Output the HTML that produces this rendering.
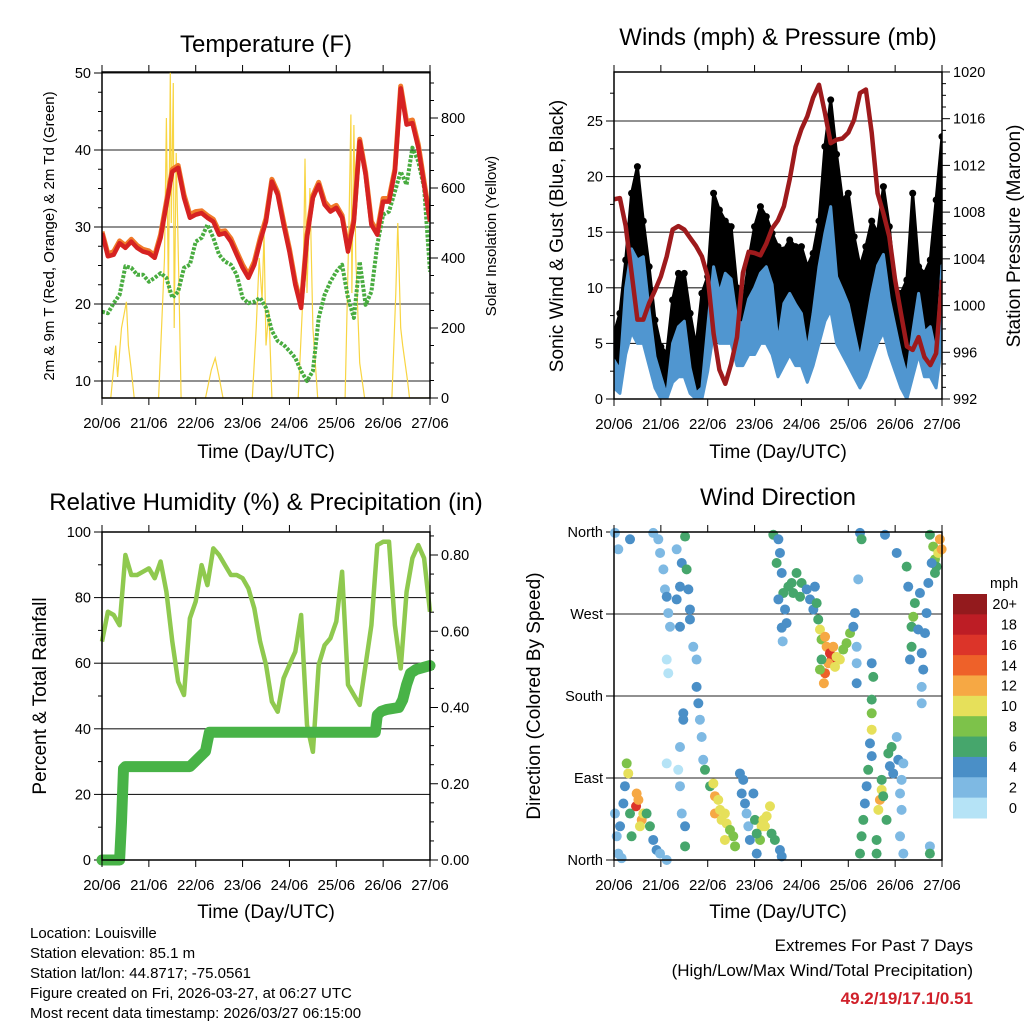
<!DOCTYPE html>
<html><head><meta charset="utf-8"><style>
html,body{margin:0;padding:0;background:#fff}
svg{display:block;font-family:"Liberation Sans",Arial,sans-serif}
</style></head><body>
<svg id="fig" width="1024" height="1024" viewBox="0 0 1024 1024" xmlns="http://www.w3.org/2000/svg">
<defs>
<clipPath id="c1"><rect x="102" y="72" width="328" height="326"/></clipPath>
<clipPath id="c2"><rect x="614" y="72" width="328" height="327"/></clipPath>
<clipPath id="c3"><rect x="90" y="520" width="352" height="352"/></clipPath>
<clipPath id="c4"><rect x="608" y="526" width="340" height="340"/></clipPath>
</defs>
<g font-size="24" text-anchor="middle" fill="#000">
<text x="266" y="52">Temperature (F)</text>
<text x="778" y="45">Winds (mph) &amp; Pressure (mb)</text>
<text x="266" y="510">Relative Humidity (%) &amp; Precipitation (in)</text>
<text x="778" y="505">Wind Direction</text>
</g>
<g font-size="19" text-anchor="middle">
<text x="266" y="458">Time (Day/UTC)</text>
<text x="778" y="458">Time (Day/UTC)</text>
<text x="266" y="918">Time (Day/UTC)</text>
<text x="778" y="918">Time (Day/UTC)</text>
<text transform="translate(563,236) rotate(-90)">Sonic Wind &amp; Gust (Blue, Black)</text>
<text transform="translate(1020,236) rotate(-90)">Station Pressure (Maroon)</text>
<text transform="translate(46,696) rotate(-90)">Percent &amp; Total Rainfall</text>
<text transform="translate(540,696) rotate(-90)">Direction (Colored By Speed)</text>
</g>
<g font-size="15" text-anchor="middle">
<text transform="translate(54,236) rotate(-90)">2m &amp; 9m T (Red, Orange) &amp; 2m Td (Green)</text>
<text transform="translate(496,236) rotate(-90)">Solar Insolation (Yellow)</text>
</g>
<g font-size="15" fill="#000">
<text x="30" y="938">Location: Louisville</text>
<text x="30" y="958">Station elevation: 85.1 m</text>
<text x="30" y="978">Station lat/lon: 44.8717; -75.0561</text>
<text x="30" y="998">Figure created on Fri, 2026-03-27, at 06:27 UTC</text>
<text x="30" y="1018">Most recent data timestamp: 2026/03/27 06:15:00</text>
</g>
<g font-size="17" text-anchor="end">
<text x="973" y="951">Extremes For Past 7 Days</text>
<text x="973" y="976">(High/Low/Max Wind/Total Precipitation)</text>
<text x="973" y="1004" fill="#d0202a" font-weight="bold">49.2/19/17.1/0.51</text>
</g>
<g id="g1"></g>
<g id="g2"></g>
<g id="g3"></g>
<g id="g4"></g>
</svg>
<script>
const hours=[0,3,6,9,12,15,18,21,24,27,30,33,36,39,42,45,48,51,54,57,60,63,66,69,72,75,78,81,84,87,90,93,96,99,102,105,108,111,114,117,120,123,126,129,132,135,138,141,144,147,150,153,156,159,162,165,168];
const dayLabels=["20/06","21/06","22/06","23/06","24/06","25/06","26/06","27/06"];
const tempRed=[29.2,26.2,26.4,27.9,27.3,28.1,27.3,26.8,26.6,26,28.6,32.9,37.2,37.7,33.8,31.2,31.6,31.8,31.2,30.7,29,29.2,28.1,26.4,24.7,23.4,25.1,28.1,30.7,35.9,34.2,30.3,26.8,22.5,19.5,28.6,33.8,35.5,32.9,32,32.5,31.2,26.8,30.7,41.1,36.8,30.3,29,33.3,33.3,37.2,48,43.3,43.5,40.3,35.5,30.7];
const tempOrange=[29.4,26.5,26.8,28.2,27.6,28.4,27.6,27.1,26.9,26.3,29,33.3,37.5,38,34.2,31.6,32,32.1,31.5,31,29.4,29.5,28.5,26.8,25.1,23.8,25.5,28.5,31.1,36.2,34.5,30.7,27.2,22.9,19.8,29,34.1,35.8,33.3,32.4,32.8,31.5,27.2,31.1,41.4,37.1,30.7,29.4,33.7,33.7,37.5,48.3,43.7,43.9,40.7,35.9,31];
const tempDew=[19,18.8,20.1,21.2,24.9,24.7,23.8,23.8,22.9,23.4,24,23.4,20.8,21.6,24.7,25.1,28.1,28.6,30.3,28.6,26.4,25.5,25.1,23.8,20.8,20.1,20.3,20.8,19.5,16.5,15.2,14.7,13.9,13,11.3,10,11.3,18.2,21.2,22.9,24.2,25.1,20.8,18.2,25.5,19.9,21.6,27.7,31.6,32,34.6,37.2,35.5,40.3,38.5,35.1,24.2];
const solarHours=[0,4.5,7,8,10,12.5,13.5,15,16.5,29,32,33,34,35,35.5,36.5,37,38,39.5,40.5,53,56,58,60,62,77,79,80.5,82,83,84,85.5,87,100.5,103,104,105,106.5,108,110.5,124.5,126.5,127.5,128,129,130,132,134.5,148.5,150.5,151.5,153,154,156.5,157.5,168];
const solarValues=[0,0,150,60,200,275,150,80,0,0,400,800,300,930,500,900,200,700,300,0,0,80,114,60,0,0,200,400,280,470,150,250,0,0,300,684,300,600,200,0,0,500,810,300,780,400,100,0,0,300,500,200,150,50,0,0];
const tempTicks=[10,20,30,40,50];
const solarTicks=[0,200,400,600,800];
const windHi=[3.5,2.6,10,13.5,12.5,12.8,8,3.8,2,0.3,5,6.5,7,2.8,0.5,1,6.5,11.9,9.5,11.3,10.8,7,6.8,9,10,11.3,11.9,10.3,5,8.6,9.5,8.5,7.7,4.3,7.7,11.9,14.9,17.3,11,9.8,8.5,6,3.5,6.5,9.5,12,13,9,6.5,4,2,6,9.5,6,6.5,4,12];
const windLo=[1,0.5,4,6,5,5,3,1,0,0,1.5,2,2,0.5,0,0,2.5,6,5,5,5,3,3,4,4,5,5,4,2,3,4,3,3,1.5,3,5,7,8,5,4,3,2,1,2,3.5,5,6,4,2.5,1,0,2,4,2,2,1,5];
const gustHi=[5.9,7.7,12.5,18.5,20.9,16,11.9,7.1,4.7,4.1,8.9,11.3,11.3,7.7,4.7,9.5,11,18.5,17,16,15.5,10,8.3,12.5,15.5,17.3,16.4,14.9,13.7,13.4,14.3,13.7,13.7,11.9,13.1,16,22.7,26.9,22,17.9,18.5,14.6,11.9,13.7,16,14.9,19.1,15.5,10,9.5,10.7,18.5,11.9,11.3,12.5,17.9,23.6];
const pressure=[1009.1,1009.2,1006.8,1002.8,998.8,998.8,1000.2,1001.3,1002.5,1004.2,1006.5,1006.8,1006.5,1005.8,1005.1,1004.2,1002.5,997.6,994.5,993.3,995,997.3,1002.8,1004.6,1004.5,1004.3,1005.3,1006.6,1007.3,1008.5,1010.8,1013.6,1015.1,1016.2,1017.8,1018.9,1016.5,1013.9,1014.2,1014.3,1014.8,1015.9,1018.2,1018.5,1014.8,1009.6,1007.9,1005.9,1002.2,999.3,996.5,996.2,997.3,995.6,994.9,995.9,1002.2];
const windTicks=[0,5,10,15,20,25];
const pressTicks=[992,996,1000,1004,1008,1012,1016,1020];
const rhValues=[66.6,75.7,74.7,71.6,93,86.9,86.9,87.9,88.9,85.9,91,81.8,66.6,54.4,50.3,73.7,78.8,89.9,83.8,95,93,89.9,86.9,86.9,85.9,82.8,76.7,66.6,59.5,48.3,45.2,55.4,59.5,63.5,74.7,41.2,33,59.5,65.5,67.6,72.7,87.9,53.4,50.3,47.3,59.5,71.6,96,97,97,71.6,58.4,81.8,92,96,92,75.7];
const rainHours=[0,9,10,11,12,45,47,50,53,54,55,140,141,143,146,152,154,156,158,161,168];
const rainValues=[0,0,0.10,0.24,0.245,0.245,0.255,0.27,0.285,0.31,0.335,0.335,0.38,0.39,0.395,0.40,0.42,0.46,0.49,0.50,0.51];
const rhTicks=[0,20,40,60,80,100];
const rainTicks=["0.00","0.20","0.40","0.60","0.80"];
const dirHours=[0.5,1.4,2.2,3.1,3.9,0.5,2.2,6.5,7.3,5.6,4.8,8.2,9,11.6,11.3,12.5,14.2,15,13.3,16.7,18.4,20.1,21.8,23.6,27,8.2,20.1,22.7,23.6,25.3,26.1,27,27.8,28.7,27,27.8,32.1,33.8,36.4,34.7,37.2,38.1,38.9,38.9,33.8,32.1,40.6,42.3,42.3,43.2,44,44.9,45.7,46.6,35.5,35.5,33.8,33.8,34.7,36.4,36.4,27,32.9,49.2,50.9,51.7,53.4,51.7,54.3,56.8,57.7,59.4,61.1,62,56.8,55.1,64.5,66.2,65.4,67.1,67.9,68.8,69.6,71.4,72.2,73.1,76.5,78.2,79.9,75.6,77.3,80.7,82.4,85,85.9,74.8,73.1,81.6,84.2,85,83.3,85.9,86.7,87.6,88.4,85.9,86.4,89.3,84.2,91,93.5,96.1,98.7,100.4,102.1,103.8,102.9,91.8,95.3,104.6,105.5,106.3,108.1,108.9,110.6,111.5,109.8,108.1,107.5,112.3,114,115.7,113.2,106.3,105.5,117.4,119.1,120.9,122.6,123.4,124.3,124.3,124.3,125.1,126,126.8,132,132.8,132,132,132,131.1,132,130.2,129.4,128.5,127.7,126.8,126,134.5,134.5,137.1,136.2,135.4,137.9,137.1,140.5,142.2,141.3,143,139.6,144.8,145.6,147.3,146.5,147.3,146.5,148.2,148.2,149.9,150.7,154.1,153.3,152.4,152.4,155.8,156.7,157.6,158.4,157.6,157.6,160.1,159.3,161,151.6,144.8,138.8,161.8,163.5,164.4,165.2,166.1,166.9,167.8,162.7,164.4,161.8,161.8];
const dirDeg=[51,26,7,37,2,359,341,106,95,81,62,51,26,73,59,66,44,51,37,51,37,22,11,7,0,352,359,352,337,319,297,289,271,256,220,205,286,300,355,326,319,297,275,264,256,341,234,220,190,172,154,135,110,99,161,154,124,81,51,37,15,106,99,81,84,70,66,51,55,51,40,33,26,15,22,44,95,88,73,62,51,37,22,73,44,7,44,48,59,37,37,29,22,11,4,22,29,357,352,337,326,315,293,275,260,255,240,300,286,304,315,304,297,286,275,282,300,293,289,264,253,242,245,234,227,220,216,205,194,234,223,220,212,220,209,231,238,249,256,271,234,216,194,308,359,352,216,201,176,161,143,128,114,99,81,62,44,26,7,22,7,77,66,55,70,88,117,124,103,95,44,135,110,88,73,55,26,7,106,322,300,282,267,256,234,253,293,227,209,190,172,271,249,304,220,337,357,357,344,330,322,337,352,341,326,315,15,7];
const dirSpeed=[2,2,2,4,2,2,2,8,10,4,4,6,6,12,16,12,12,10,10,6,6,4,4,2,2,4,2,2,2,2,2,4,2,2,0,0,4,4,6,4,6,4,4,4,4,2,2,2,4,4,2,2,2,6,4,4,2,2,2,4,6,0,0,6,10,12,10,12,10,10,10,8,8,8,10,10,4,4,4,4,2,2,4,4,6,4,10,10,10,10,10,6,6,4,4,8,6,6,4,4,6,4,6,4,4,4,2,6,4,6,6,6,4,4,4,6,4,6,6,6,10,8,12,12,16,16,12,14,12,12,10,10,10,6,8,8,8,8,4,4,2,2,4,2,4,6,4,6,6,8,10,4,4,6,4,4,6,6,6,6,6,10,12,10,6,6,6,6,4,4,6,2,4,2,2,2,2,2,2,6,4,6,8,6,6,4,4,4,4,2,2,4,4,4,4,4,4,6,8,8,6,10,12,12,4,6,2,6];
const dirTicks=["North","East","South","West","North"];
const cbLabels=["20+","18","16","14","12","10","8","6","4","2","0"];
const cbColors=["#931a1d","#bd1d25","#dc3429","#ee6129","#f6a844","#e6e05a","#7dc24a","#46a66c","#4a8fc7","#7eb9e3","#b5e3f6"];

const NS="http://www.w3.org/2000/svg";
function mk(parent,tag,attrs){const e=document.createElementNS(NS,tag);for(const k in attrs)e.setAttribute(k,attrs[k]);parent.appendChild(e);return e;}
function pathOf(xs,ys){return xs.map((x,i)=>(i?"L":"M")+x.toFixed(1)+","+ys[i].toFixed(1)).join("");}
function speedColor(s){const i=Math.min(10,Math.floor(s/2));return cbColors[10-i];}

function frame(g,x0,y0,x1,y1,xs,name){
  const xAx=h=>x0+h/168*(x1-x0);
  for(let d=0;d<=7;d++){
    const x=xAx(d*24);
    const t=mk(g,"line",{x1:x,x2:x,y1:y1,y2:y1+7,stroke:"#000","stroke-width":1});
    
    
    const t2=mk(g,"line",{x1:x,x2:x,y1:y0,y2:y0-7,stroke:"#000","stroke-width":1});
    
    
    const lb=mk(g,"text",{x:x,y:y1+30,"font-size":15,"text-anchor":"middle"});
    lb.textContent=dayLabels[d];
    
    
  }
  const r=mk(g,"rect",{x:x0,y:y0,width:x1-x0,height:y1-y0,fill:"none",stroke:"#000","stroke-width":1.5});
  
  
  return xAx;
}
function yAxis(g,x,ticks,labels,yf,side,grid,x0,x1,minor){
  ticks.forEach((v,i)=>{
    const y=yf(v);
    if(grid){const gl=mk(g,"line",{x1:x0,x2:x1,y1:y,y2:y,stroke:"#222","stroke-width":1.1});
      
      }
    const t=mk(g,"line",{x1:x,x2:x+(side<0?-8:8),y1:y,y2:y,stroke:"#000"});
    
    
    const l=mk(g,"text",{x:x+(side<0?-11:11),y:y+5,"font-size":14.5,"text-anchor":side<0?"end":"start"});
    l.textContent=labels[i];
    
    
  });
  (minor||[]).forEach(v=>{const y=yf(v);const t=mk(g,"line",{x1:x,x2:x+(side<0?-4:4),y1:y,y2:y,stroke:"#000"});
    
    });
}

// ---- Panel 1 temperature ----
(function(){
  const g=document.getElementById("g1");
  const yT=v=>381-(v-10)*7.7, yS=s=>398-s*0.35;
  const xA=h=>102+h/168*328;
  yAxis(g,102,tempTicks,tempTicks.map(String),yT,-1,true,102,430,[12.5,15,17.5,22.5,25,27.5,32.5,35,37.5,42.5,45,47.5]);
  yAxis(g,430,solarTicks,solarTicks.map(String),yS,1,false,0,0,[50,100,150,250,300,350,450,500,550,650,700,750,850,900]);
  const c=mk(g,"g",{"clip-path":"url(#c1)"});
  const s=mk(c,"path",{d:pathOf(solarHours.map(xA),solarValues.map(yS)),fill:"none",stroke:"#f8d542","stroke-width":1.2});
  
  
  const dw=mk(c,"path",{d:pathOf(hours.map(xA),tempDew.map(yT)),fill:"none",stroke:"#49ac40","stroke-width":4,"stroke-dasharray":"3 1.5","stroke-linejoin":"round"});
  
  
  const o=mk(c,"path",{d:pathOf(hours.map(xA),tempOrange.map(yT)),fill:"none",stroke:"#f07a2a","stroke-width":5,"stroke-linejoin":"round"});
  
  
  const r=mk(c,"path",{d:pathOf(hours.map(xA),tempRed.map(yT)),fill:"none",stroke:"#d62222","stroke-width":4.5,"stroke-linejoin":"round"});
  
  
  frame(g,102,72,430,398,null,"temp");
})();

// ---- Panel 2 winds ----
(function(){
  const g=document.getElementById("g2");
  const yW=m=>399-m*11.12, yP=p=>399-(p-992)*11.68;
  const xA=h=>614+h/168*328;
  yAxis(g,614,windTicks,windTicks.map(String),yW,-1,true,614,942,[2.5,7.5,12.5,17.5,22.5,27.5]);
  yAxis(g,942,pressTicks,pressTicks.map(String),yP,1,false,0,0,[993,994,995,997,998,999,1001,1002,1003,1005,1006,1007,1009,1010,1011,1013,1014,1015,1017,1018,1019]);
  const c=mk(g,"g",{"clip-path":"url(#c2)"});
  const xs=hours.map(xA);
  const gp=pathOf(xs,gustHi.map(yW))+pathOf(xs.slice().reverse(),windHi.map(yW).reverse()).replace("M","L")+"Z";
  const gb=mk(c,"path",{d:gp,fill:"#000",stroke:"#000","stroke-width":3,"stroke-linejoin":"round"});
  
  
  gustHi.forEach((v,i)=>{const d=mk(c,"circle",{cx:xs[i],cy:yW(v),r:3.5,fill:"#000"});
    
    });
  const bp=pathOf(xs,windHi.map(yW))+pathOf(xs.slice().reverse(),windLo.map(yW).reverse()).replace("M","L")+"Z";
  const bb=mk(c,"path",{d:bp,fill:"#5096d0",stroke:"#5096d0","stroke-width":3,"stroke-linejoin":"round"});
  
  
  const p=mk(c,"path",{d:pathOf(xs,pressure.map(yP)),fill:"none",stroke:"#9e1a1c","stroke-width":4.5,"stroke-linejoin":"round"});
  
  
  frame(g,614,72,942,399,null,"wind");
})();

// ---- Panel 3 humidity ----
(function(){
  const g=document.getElementById("g3");
  const yR=v=>860-v*3.28, yRain=r=>860-r*381.25;
  const xA=h=>102+h/168*328;
  yAxis(g,102,rhTicks,rhTicks.map(String),yR,-1,true,102,430,[10,30,50,70,90]);
  yAxis(g,430,rainTicks.map(Number),rainTicks,yRain,1,false,0,0,[0.05,0.1,0.15,0.25,0.3,0.35,0.45,0.5,0.55,0.65,0.7,0.75,0.85]);
  const c=mk(g,"g",{"clip-path":"url(#c3)"});
  const rh=mk(c,"path",{d:pathOf(hours.map(xA),rhValues.map(yR)),fill:"none",stroke:"#8fc94f","stroke-width":4.5,"stroke-linejoin":"round"});
  
  
  const rn=mk(c,"path",{d:pathOf(rainHours.map(xA),rainValues.map(yRain)),fill:"none",stroke:"#48b347","stroke-width":11,"stroke-linejoin":"round","stroke-linecap":"round"});
  
  
  frame(g,102,532,430,860,null,"rh");
})();

// ---- Panel 4 direction ----
(function(){
  const g=document.getElementById("g4");
  const yD=d=>860-d*328/360;
  const xA=h=>614+h/168*328;
  yAxis(g,614,[0,90,180,270,360],dirTicks,yD,-1,true,614,942,[]);
  const c=mk(g,"g",{"clip-path":"url(#c4)"});
  dirHours.forEach((h,i)=>{
    const p=mk(c,"circle",{cx:xA(h),cy:yD(dirDeg[i]),r:5,fill:speedColor(dirSpeed[i])});
    
    
  });
  frame(g,614,532,942,860,null,"dir");
  const bh=(818-594)/11;
  cbColors.forEach((col,i)=>{
    const b=mk(g,"rect",{x:953,y:594+i*bh,width:34,height:bh+0.5,fill:col});
    
    
    const l=mk(g,"text",{x:1017,y:594+i*bh+bh/2+5,"font-size":14.5,"text-anchor":"end"});
    l.textContent=cbLabels[i];
    
    
  });
  const m=mk(g,"text",{x:990,y:588,"font-size":14.5});
  m.textContent="mph";
  
  
})();
</script>
</body></html>
